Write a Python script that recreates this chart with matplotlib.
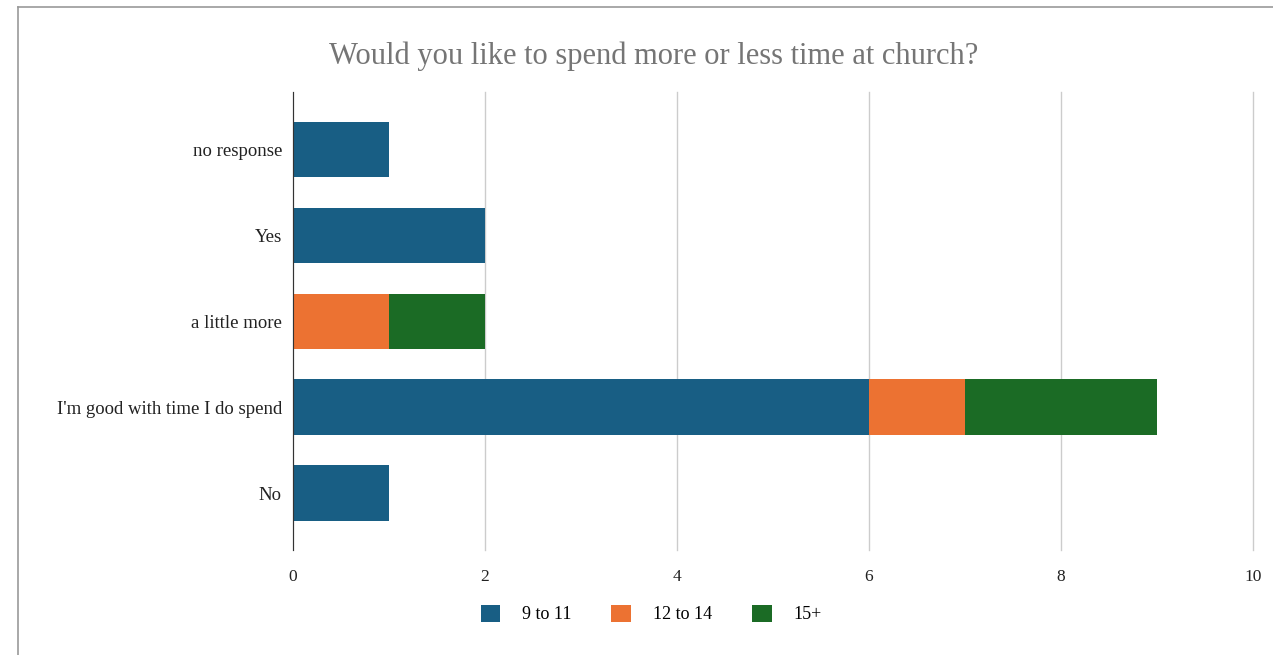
import matplotlib
matplotlib.use("Agg")
import matplotlib.pyplot as plt
from matplotlib.lines import Line2D

# data
categories = ["No", "I'm good with time I do spend", "a little more", "Yes", "no response"]
age_9_11 = [1, 6, 0, 2, 1]
age_12_14 = [0, 1, 1, 0, 0]
age_15p = [0, 2, 1, 0, 0]
series_names = ["9 to 11", "12 to 14", "15+"]
colors = ["#185e84", "#ec7232", "#1b6b25"]

plt.rcParams['font.family'] = ['Liberation Serif', 'DejaVu Serif']

fig = plt.figure(figsize=(12.73, 6.55), dpi=100)
ax = fig.add_axes([293 / 1273, 1 - 550 / 655, 960 / 1273, 458 / 655])

ypos = list(range(len(categories)))
left = [0] * len(categories)
handles = []
for vals, name, c in zip([age_9_11, age_12_14, age_15p], series_names, colors):
    b = ax.barh(ypos, vals, left=left, height=0.65, color=c, label=name, zorder=3)
    handles.append(b)
    left = [l + v for l, v in zip(left, vals)]

ax.set_xlim(0, 10)
ax.set_ylim(-0.66, 4.67)
ax.set_xticks([0, 2, 4, 6, 8, 10])
ax.set_yticks(ypos)
ax.set_yticklabels(categories)
ax.tick_params(axis='y', length=0, labelsize=13.5, colors="#222222", pad=8)
ax.tick_params(axis='x', length=0, labelsize=12.5, colors="#222222", pad=14)
ax.grid(axis='x', color="#cccccc", linewidth=1, zorder=0)
for gl in ax.get_xgridlines():
    gl.set_clip_on(False)
for s in ['top', 'right', 'bottom']:
    ax.spines[s].set_visible(False)
ax.spines['left'].set_color("#333333")
ax.spines['left'].set_zorder(4)

fig.suptitle("Would you like to spend more or less time at church?",
             x=654 / 1273, y=1 - 56 / 655, va='center', fontsize=22, color="#757575")

fig.legend(handles=handles, labels=series_names, loc='center',
           bbox_to_anchor=(651 / 1273, 1 - 614 / 655), ncol=3, frameon=False,
           fontsize=13, handlelength=1.1, handleheight=1.1, columnspacing=2.2,
           handletextpad=1.2)

# spreadsheet frame around the chart
fig.add_artist(Line2D([18 / 1273, 1], [1 - 7 / 655, 1 - 7 / 655], color="#999999", lw=1.2))
fig.add_artist(Line2D([18 / 1273, 18 / 1273], [0, 1 - 7 / 655], color="#999999", lw=1.2))

plt.savefig("out.png", dpi=100)
